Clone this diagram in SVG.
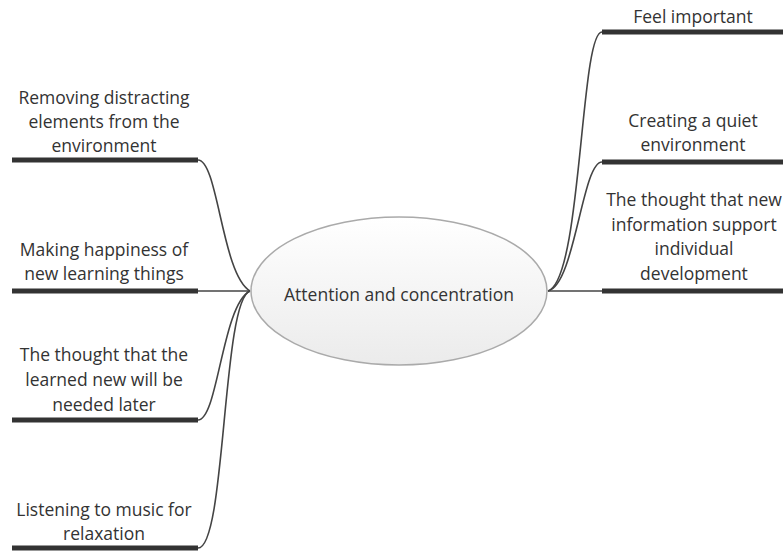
<svg xmlns="http://www.w3.org/2000/svg" width="783" height="554" viewBox="0 0 783 554">
<defs>
<linearGradient id="eg" x1="0" y1="0" x2="0" y2="1">
<stop offset="0" stop-color="#ffffff"/>
<stop offset="1" stop-color="#ebebeb"/>
</linearGradient>
</defs>
<style>
text{font-family:"Open Sans","Liberation Sans",sans-serif;font-size:17.5px;fill:#333;text-anchor:middle}
.bar{stroke:#333;stroke-width:5;fill:none}
.con{stroke:#444;stroke-width:1.6;fill:none}
</style>
<rect width="783" height="554" fill="#fff"/>
<g id="connectors">
<path class="con" d="M198,160 C218,160 222,275 250,291"/>
<path class="con" d="M198,291 L250,291"/>
<path class="con" d="M198,420 C218,420 222,305 250,291"/>
<path class="con" d="M198,548 C226,548 222,300 250,291"/>
<path class="con" d="M602,32 C580,32 582,280 548,291"/>
<path class="con" d="M602,162 C582,162 575,285 548,291"/>
<path class="con" d="M548,291 L602,291"/>
</g>
<g id="center">
<ellipse cx="399" cy="291" rx="148" ry="74" fill="url(#eg)" stroke="#aaa" stroke-width="1.5"/>
<text x="399" y="301">Attention and concentration</text>
</g>
<g id="n1">
<line class="bar" x1="12" y1="160" x2="198" y2="160"/>
<text x="104" y="104">Removing distracting</text>
<text x="104" y="128">elements from the</text>
<text x="104" y="152">environment</text>
</g>
<g id="n2">
<line class="bar" x1="12" y1="291" x2="198" y2="291"/>
<text x="104" y="256">Making happiness of</text>
<text x="104" y="280">new learning things</text>
</g>
<g id="n3">
<line class="bar" x1="12" y1="420" x2="198" y2="420"/>
<text x="104" y="361">The thought that the</text>
<text x="104" y="386">learned new will be</text>
<text x="104" y="411">needed later</text>
</g>
<g id="n4">
<line class="bar" x1="12" y1="548" x2="198" y2="548"/>
<text x="104" y="516">Listening to music for</text>
<text x="104" y="540">relaxation</text>
</g>
<g id="n5">
<line class="bar" x1="602" y1="32" x2="783" y2="32"/>
<text x="693" y="23">Feel important</text>
</g>
<g id="n6">
<line class="bar" x1="602" y1="162" x2="783" y2="162"/>
<text x="693" y="127">Creating a quiet</text>
<text x="693" y="151">environment</text>
</g>
<g id="n7">
<line class="bar" x1="602" y1="291" x2="783" y2="291"/>
<text x="694" y="206">The thought that new</text>
<text x="694" y="231">information support</text>
<text x="694" y="255">individual</text>
<text x="694" y="280">development</text>
</g>
</svg>
